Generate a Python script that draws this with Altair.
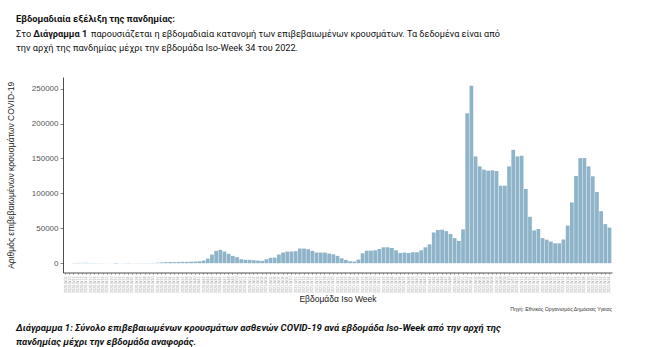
import altair as alt
import pandas as pd

# ---- data -------------------------------------------------------------
years = [2020] * 45 + [2021] * 52 + [2022] * 34
week_nums = list(range(9, 54)) + list(range(1, 53)) + list(range(1, 35))
weeks = [f"{y}-W{w:02d}" for y, w in zip(years, week_nums)]

cases_2020 = [10, 80, 300, 450, 500, 600, 450, 350, 200, 150,
              100, 80, -600, 150, 200, 150, 200, 250, 200, 250,
              300, 400, 700, 1200, 1500, 1700, 1600, 1700, 1900, 2000,
              2100, 2300, 2800, 3800, 6700, 12400, 17700, 19100, 16700, 13400,
              10500, 8600, 5700, 4800, 4800]
cases_2021 = [4300, 3800, 3300, 5700, 7600, 8100, 12400, 15300, 16700, 16700,
              17200, 21000, 21000, 20000, 17700, 15300, 15300, 15300, 13800, 12800,
              10500, 7100, 4750, 2850, 2400, 5200, 14250, 18000, 18000, 18500,
              20400, 22800, 22800, 21800, 18500, 14700, 15200, 14700, 15700, 15700,
              18500, 22800, 27000, 44000, 47500, 48000, 46000, 41800, 36000, 31800,
              48500, 214700]
cases_2022 = [254000, 153000, 138700, 134000, 132500, 133000, 132000, 111000, 111000, 138700,
              162500, 153000, 154000, 106400, 66500, 47000, 49000, 36000, 33700, 31000,
              28500, 28500, 34000, 54000, 87000, 125000, 150500, 150500, 138700, 124500,
              102000, 74500, 56000, 51000]
cases = cases_2020 + cases_2021 + cases_2022

y_ticks = [0, 50000, 100000, 150000, 200000, 250000]

df = pd.DataFrame({"week": weeks, "cases": cases})

# ---- layout constants -------------------------------------------------
LEFT, TOP = 63, 77
PW, PH = 549, 195.5
AX_FONT = "Liberation Sans"
P_FONT = "Roboto"

bars = alt.Chart(df).mark_bar(color="#8fb4c9").encode(
    x=alt.X(
        "week:N", sort=None,
        scale=alt.Scale(paddingInner=0.1, paddingOuter=0.15),
        axis=alt.Axis(
            title="Εβδομάδα Iso Week", titleFont=AX_FONT, titleFontSize=8.5,
            titleFontWeight="normal", titleColor="#1a1a1a",
            titleBaseline="alphabetic", titleY=28.5,
            labelAngle=270, labelFontSize=3.6, labelColor="#9a9a9a",
            labelFont=AX_FONT, labelPadding=1.5, labelAlign="right",
            labelBaseline="middle",
            tickSize=2, tickColor="#777777", tickWidth=0.5,
            domainColor="#222222", domainWidth=0.8,
        ),
    ),
    y=alt.Y(
        "cases:Q", stack=None,
        scale=alt.Scale(domain=[-13300, 266700], nice=False),
        axis=alt.Axis(
            values=y_ticks, format="d", grid=False,
            title="Αριθμός επιβεβαιωμένων κρουσμάτων COVID-19",
            titleFont=AX_FONT, titleFontSize=8.5, titleFontWeight="normal",
            titleColor="#1a1a1a", titleAngle=270, titleX=-53,
            titleBaseline="middle",
            labelFont=AX_FONT, labelFontSize=8, labelColor="#555555",
            labelPadding=2, tickSize=3, tickColor="#333333", tickWidth=0.6,
            domainColor="#222222", domainWidth=0.8,
        ),
    ),
)


def txt(s, x, y, size, weight="normal", style="normal", align="left",
        color="#111111", font=P_FONT):
    return alt.Chart(pd.DataFrame({"t": [s]})).mark_text(
        align=align, baseline="alphabetic", fontSize=size,
        fontWeight=weight, fontStyle=style, font=font, color=color,
    ).encode(text="t:N", x=alt.value(x - LEFT), y=alt.value(y - TOP))


texts = [
    txt("Εβδομαδιαία εξέλιξη της πανδημίας:", 16, 22, 9.4, weight="bold"),
    txt("Στο", 16, 37, 9.2),
    txt("Διάγραμμα 1", 33.3, 37, 9.2, weight="bold"),
    txt("παρουσιάζεται η εβδομαδιαία κατανομή των επιβεβαιωμένων κρουσμάτων.  Τα δεδομένα είναι από",
        91, 37, 9.1),
    txt("την αρχή της πανδημίας μέχρι την εβδομάδα Iso-Week 34 του 2022.", 16, 51, 9.2),
    txt("Πηγή: Εθνικός Οργανισμός Δημόσιας Υγείας", 612, 311, 5.2, align="right",
        color="#333333", font=AX_FONT),
    txt("Διάγραμμα 1:  Σύνολο επιβεβαιωμένων κρουσμάτων ασθενών COVID-19 ανά εβδομάδα Iso-Week από την αρχή της",
        16, 331, 9.5, weight="bold", style="italic"),
    txt("πανδημίας μέχρι την εβδομάδα αναφοράς.", 16, 345, 9.5, weight="bold", style="italic"),
]

chart = alt.layer(bars, *texts).properties(
    width=PW, height=PH,
    autosize=alt.AutoSizeParams(type="none"),
    padding={"left": LEFT, "top": TOP, "right": 650 - LEFT - PW, "bottom": 347 - TOP - PH},
    background="white",
).configure_view(strokeWidth=0)

chart.save("out.html", embed_options={"renderer": "svg", "actions": False})
